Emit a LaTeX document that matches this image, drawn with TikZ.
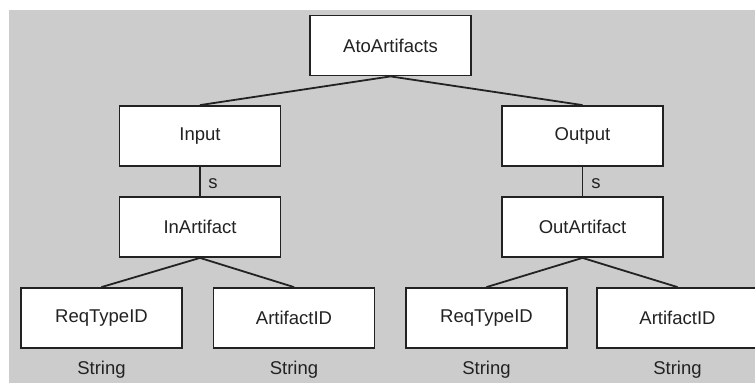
\documentclass[tikz,border=0pt]{standalone}
\usepackage{fontspec}
\setmainfont{Liberation Sans}
\definecolor{bggrey}{HTML}{CCCCCC}
\definecolor{ink}{HTML}{222222}
\begin{document}
\begin{tikzpicture}[x=1pt,y=-1pt,
  box/.style={draw=ink,fill=white,line width=1.8pt,minimum width=161pt,minimum height=60pt,inner sep=0pt,font=\fontsize{18.5}{22}\selectfont,text=ink},
  lbl/.style={inner sep=0pt,font=\fontsize{18.5}{22}\selectfont,text=ink},
  edge/.style={draw=ink,line width=1.8pt}]
\useasboundingbox (0,0) rectangle (755,383);
\fill[bggrey] (9,10) rectangle (755,383);
\node[box] (root) at (390.5,45.5) {AtoArtifacts};
\node[box] (input) at (200,136) {Input};
\node[box] (output) at (582.5,136) {Output};
\node[box] (inart) at (200,227) {InArtifact};
\node[box] (outart) at (582.5,227) {OutArtifact};
\node[box] (req1) at (101.5,318) {ReqTypeID};
\node[box] (art1) at (294,318) {ArtifactID};
\node[box] (req2) at (486.5,318) {ReqTypeID};
\node[box] (art2) at (677.5,318) {ArtifactID};
\node[lbl] (s1) at (213,184) {s};
\node[lbl] (s2) at (596,184) {s};
\node[lbl] (str1) at (101.5,370) {String};
\node[lbl] (str2) at (294,370) {String};
\node[lbl] (str3) at (486.5,370) {String};
\node[lbl] (str4) at (677.5,370) {String};
\draw[edge] (root.south) -- (input.north);
\draw[edge] (root.south) -- (output.north);
\draw[edge] (input.south) -- (inart.north);
\draw[edge] (output.south) -- (outart.north);
\draw[edge] (inart.south) -- (req1.north);
\draw[edge] (inart.south) -- (art1.north);
\draw[edge] (outart.south) -- (req2.north);
\draw[edge] (outart.south) -- (art2.north);
\end{tikzpicture}
\end{document}
